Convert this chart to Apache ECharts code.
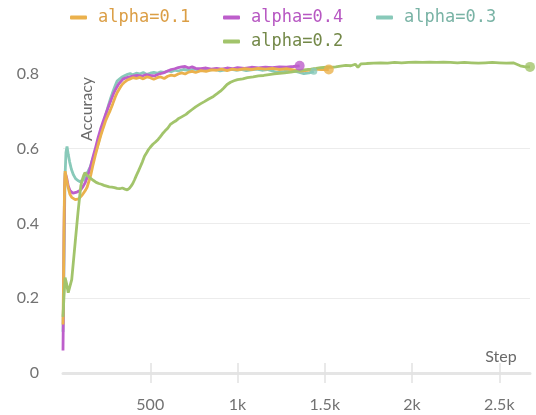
<!DOCTYPE html>
<html>
<head>
<meta charset="utf-8">
<script src="https://cdn.jsdelivr.net/npm/echarts@6/dist/echarts.min.js"></script>
<style>html,body{margin:0;padding:0;background:#fff}#c{width:536px;height:415px}</style>
</head>
<body>
<div id="c"></div>
<script>
// ---- data ----
const seriesNames = ['alpha=0.1', 'alpha=0.4', 'alpha=0.3', 'alpha=0.2'];
const xTicks = [500, 1000, 1500, 2000, 2500];
const yTicks = [0, 0.2, 0.4, 0.6, 0.8];

const steps01 = [0,3,6,9,12,16,22,30,40,50,60,70,80,90,100,110,120,130,138,150,160,172,185,201,215,230,245,258,270,285,299,310,325,339,355,370,385,400,420,440,460,480,500,520,540,560,580,600,620,640,660,680,700,720,740,760,790,820,850,880,910,940,970,1000,1040,1080,1120,1160,1200,1240,1280,1320,1360,1400,1440,1480,1523];
const acc01 = [0.13,0.25,0.4,0.5,0.54,0.535,0.515,0.495,0.478,0.47,0.466,0.464,0.462,0.466,0.469,0.476,0.483,0.49,0.497,0.515,0.531,0.557,0.582,0.61,0.633,0.655,0.676,0.69,0.702,0.72,0.738,0.75,0.762,0.772,0.779,0.784,0.787,0.79,0.788,0.791,0.787,0.792,0.79,0.786,0.79,0.792,0.788,0.794,0.797,0.795,0.8,0.803,0.8,0.805,0.807,0.804,0.809,0.807,0.811,0.81,0.813,0.809,0.813,0.811,0.814,0.812,0.815,0.813,0.815,0.812,0.814,0.811,0.808,0.81,0.813,0.812,0.812];

const steps04 = [0,3,6,9,13,17,22,30,40,50,57,68,80,92,104,116,128,140,150,160,172,185,200,215,230,245,260,275,290,305,320,345,370,400,425,450,475,500,525,550,575,600,620,640,660,680,700,720,740,760,790,820,850,880,910,940,970,1000,1040,1080,1120,1160,1200,1240,1280,1320,1356];
const acc04 = [0.06,0.2,0.38,0.49,0.535,0.54,0.52,0.5,0.488,0.483,0.481,0.482,0.484,0.487,0.492,0.5,0.51,0.525,0.54,0.556,0.578,0.6,0.628,0.652,0.673,0.693,0.712,0.73,0.748,0.762,0.774,0.787,0.791,0.794,0.796,0.794,0.798,0.796,0.795,0.8,0.803,0.808,0.812,0.814,0.817,0.819,0.82,0.816,0.819,0.815,0.814,0.816,0.813,0.815,0.813,0.816,0.814,0.817,0.815,0.818,0.816,0.818,0.817,0.819,0.818,0.82,0.822];

const steps03 = [0,4,8,12,17,23,30,38,48,60,72,85,98,109,120,132,144,155,165,175,185,195,205,215,230,245,259,273,287,300,310,325,339,355,370,385,400,420,440,460,480,500,520,540,560,580,600,620,640,660,690,720,750,780,810,840,870,900,930,960,990,1020,1050,1080,1110,1140,1170,1200,1230,1260,1290,1320,1350,1380,1410,1437];
const acc03 = [0.11,0.22,0.4,0.53,0.59,0.606,0.585,0.565,0.545,0.53,0.52,0.515,0.512,0.511,0.517,0.53,0.54,0.55,0.565,0.578,0.59,0.603,0.62,0.638,0.665,0.69,0.714,0.735,0.754,0.77,0.781,0.787,0.792,0.796,0.799,0.801,0.798,0.802,0.8,0.804,0.799,0.802,0.804,0.802,0.806,0.804,0.808,0.806,0.81,0.808,0.812,0.81,0.813,0.811,0.814,0.81,0.813,0.808,0.811,0.813,0.81,0.812,0.809,0.811,0.813,0.81,0.812,0.808,0.804,0.806,0.81,0.808,0.805,0.801,0.803,0.807];

const steps02 = [0,5,12,20,30,40,50,60,70,78,86,95,102,109,118,126,135,145,155,165,175,190,205,220,235,250,265,280,295,310,325,340,355,368,380,390,400,410,420,432,443,455,467,480,490,500,515,530,545,557,570,585,600,615,630,645,660,675,690,705,720,740,760,787,810,835,862,885,902,920,940,960,980,1000,1030,1057,1090,1120,1150,1180,1210,1240,1270,1305,1340,1380,1420,1450,1477,1510,1540,1563,1590,1620,1650,1675,1690,1707,1740,1780,1820,1860,1900,1940,1980,2020,2060,2100,2140,2180,2220,2260,2300,2340,2380,2420,2460,2500,2540,2580,2620,2650,2676];
const acc02 = [0.15,0.2,0.255,0.24,0.215,0.212,0.25,0.3,0.35,0.39,0.43,0.47,0.5,0.515,0.528,0.536,0.53,0.525,0.522,0.518,0.515,0.51,0.507,0.505,0.502,0.5,0.498,0.497,0.496,0.494,0.493,0.495,0.492,0.49,0.494,0.5,0.507,0.517,0.528,0.54,0.552,0.565,0.58,0.59,0.598,0.604,0.612,0.618,0.625,0.632,0.64,0.648,0.655,0.665,0.67,0.674,0.68,0.684,0.688,0.692,0.698,0.705,0.712,0.72,0.726,0.733,0.74,0.748,0.754,0.762,0.772,0.778,0.782,0.785,0.787,0.79,0.792,0.795,0.796,0.798,0.8,0.802,0.803,0.805,0.808,0.811,0.813,0.815,0.817,0.818,0.818,0.819,0.821,0.823,0.822,0.826,0.818,0.827,0.828,0.829,0.83,0.829,0.831,0.83,0.831,0.832,0.831,0.832,0.831,0.832,0.831,0.83,0.831,0.83,0.829,0.83,0.831,0.83,0.829,0.83,0.822,0.819,0.819];

// ---- styles ----
const lineColors = {'alpha=0.1':'#EBB14C','alpha=0.4':'#BD5ECB','alpha=0.3':'#88C9B9','alpha=0.2':'#A2C46B'};
const textColors = {'alpha=0.1':'#DB9E45','alpha=0.4':'#B757C2','alpha=0.3':'#79B3A5','alpha=0.2':'#738848'};

const zip = (s, v) => s.map((x, i) => [x, v[i]]);
const dataMap = {
  'alpha=0.3': zip(steps03, acc03),
  'alpha=0.4': zip(steps04, acc04),
  'alpha=0.1': zip(steps01, acc01),
  'alpha=0.2': zip(steps02, acc02)
};
const drawOrder = ['alpha=0.3','alpha=0.4','alpha=0.1','alpha=0.2'];

const series = [];
drawOrder.forEach(n => {
  series.push({
    name: n, type: 'line', data: dataMap[n], showSymbol: false,
    lineStyle: {color: lineColors[n], width: 2.8}, itemStyle: {color: lineColors[n]},
    emphasis: {disabled: true}, z: 2
  });
});
drawOrder.forEach(n => {
  const d = dataMap[n];
  series.push({
    name: n + '_end', type: 'scatter', data: [d[d.length - 1]],
    symbolSize: n === 'alpha=0.3' ? 7 : 10, itemStyle: {color: lineColors[n]}, z: 3, silent: true
  });
});

const legendPos = {'alpha=0.1':[70,9],'alpha=0.4':[223,9],'alpha=0.3':[376,9],'alpha=0.2':[223,33]};
const legends = seriesNames.map(n => ({
  data: [{name: n, textStyle: {color: textColors[n]}}],
  left: legendPos[n][0], top: legendPos[n][1],
  icon: 'roundRect', itemWidth: 17, itemHeight: 4, padding: 0,
  selectedMode: false,
  itemStyle: {color: lineColors[n]},
  textStyle: {fontFamily: 'DejaVu Sans Mono', fontSize: 17, padding: [0,0,0,6]}
}));

const labelFont = {fontFamily: 'Lato', fontSize: 16, color: '#727272'};

const chart = echarts.init(document.getElementById('c'), null, {renderer: 'canvas'});
chart.setOption({
  animation: false,
  backgroundColor: '#fff',
  legend: legends,
  grid: {left: 63, right: 6, top: 55.3, bottom: 42},
  xAxis: [
    {
      type: 'value', min: 0, max: 2676, interval: 500,
      axisLine: {show: true, lineStyle: {color: '#e5e5e5', width: 3}},
      axisTick: {show: true, customValues: xTicks, length: 10, lineStyle: {color: '#e2e2e2', width: 1.5}},
      axisLabel: Object.assign({customValues: xTicks, margin: 24,
        formatter: v => (v >= 1000 ? (v / 1000) + 'k' : String(v))}, labelFont),
      splitLine: {show: false}
    },
    {
      type: 'value', min: 0, max: 2676, interval: 500, position: 'bottom',
      axisLine: {show: false},
      axisTick: {show: true, inside: true, customValues: xTicks, length: 10, lineStyle: {color: '#e2e2e2', width: 1.5}},
      axisLabel: {show: false}, splitLine: {show: false}
    }
  ],
  yAxis: {
    type: 'value', min: 0, max: 0.85, interval: 0.2,
    axisLine: {show: false}, axisTick: {show: false, customValues: yTicks},
    axisLabel: Object.assign({customValues: yTicks, margin: 24,
      formatter: v => (v === 0 ? '0' : v.toFixed(1))}, labelFont),
    splitLine: {show: true, showMaxLine: false, lineStyle: {color: '#ececec', width: 1}}
  },
  graphic: [
    {type: 'text', x: 501, y: 357, z: 10,
      style: {text: 'Step', fill: '#6a6a6a', font: '16px Lato', textAlign: 'center', textVerticalAlign: 'middle'}},
    {type: 'text', x: 87, y: 109, rotation: Math.PI / 2, z: 10,
      style: {text: 'Accuracy', fill: '#6a6a6a', font: '16px Lato', textAlign: 'center', textVerticalAlign: 'middle'}}
  ],
  series: series
});
</script>
</body>
</html>
